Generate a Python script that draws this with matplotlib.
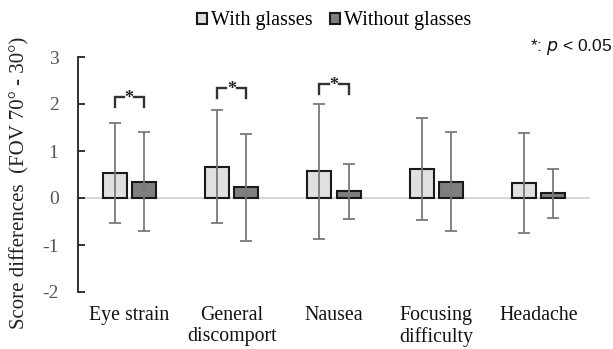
import matplotlib
matplotlib.use("Agg")
import matplotlib.pyplot as plt
import numpy as np

categories = ["Eye strain", "General\ndiscomport", "Nausea", "Focusing\ndifficulty", "Headache"]
with_mean = [0.53, 0.67, 0.57, 0.62, 0.32]
with_sd = [1.07, 1.21, 1.44, 1.08, 1.07]
without_mean = [0.35, 0.23, 0.14, 0.35, 0.10]
without_sd = [1.06, 1.14, 0.59, 1.05, 0.52]
sig_groups = [0, 1, 2]
sig_heights = [2.14, 2.33, 2.42]
yticks = [-2, -1, 0, 1, 2, 3]

serif = "Liberation Serif"
fig = plt.figure(figsize=(6.13, 3.49), dpi=100)
ax = fig.add_axes([78/613, 1-292/349, (590-78)/613, (292-57)/349])

x = np.arange(len(categories))
w = 0.235
off = 0.143
ax.bar(x - off, with_mean, w, color="#e0e0e0", edgecolor="#1a1a1a", linewidth=1.5,
       label="With glasses", zorder=2)
ax.bar(x + off, without_mean, w, color="#7f7f7f", edgecolor="#1a1a1a", linewidth=1.5,
       label="Without glasses", zorder=2)
ax.errorbar(x - off, with_mean, yerr=with_sd, fmt="none", ecolor="#7a7a7a",
            elinewidth=1.3, capsize=4, capthick=1.3, zorder=3)
ax.errorbar(x + off, without_mean, yerr=without_sd, fmt="none", ecolor="#7a7a7a",
            elinewidth=1.3, capsize=4, capthick=1.3, zorder=3)

ax.axhline(0, color="#d0d0d0", linewidth=1.2, zorder=1)

for g, h in zip(sig_groups, sig_heights):
    x0, x1 = g - off, g + off
    gapl, gapr = g - 0.05, g + 0.05
    ax.plot([x0, x0, gapl], [h - 0.2, h, h], color="#333333", lw=1.7, solid_joinstyle="miter", zorder=4)
    ax.plot([gapr, x1, x1], [h, h, h - 0.2], color="#333333", lw=1.7, solid_joinstyle="miter", zorder=4)
    ax.text(g, h - 0.03, "*", ha="center", va="center", fontsize=13, family=serif,
            fontweight="bold", color="#222222")

ax.set_xlim(-0.5, 4.5)
ax.set_ylim(-2, 3)
ax.set_yticks(yticks)
ax.set_yticklabels([str(t) for t in yticks], family=serif, fontsize=14, color="#555555")
ax.set_xticks(x)
ax.set_xticklabels(categories, family=serif, fontsize=14.3, color="#111111", linespacing=1.15)
ax.tick_params(axis="x", length=0, pad=10)
ax.tick_params(axis="y", direction="in", length=5, width=1.3, color="#222222", pad=14)
for s in ["top", "right", "bottom"]:
    ax.spines[s].set_visible(False)
ax.spines["left"].set_color("#222222")
ax.spines["left"].set_linewidth(1.3)

fig.text(20/613, 1-183/349, "Score differences  (FOV 70° - 30°)", rotation=90,
         ha="center", va="center", family=serif, fontsize=15, color="#222222")

fig.legend(loc="center", bbox_to_anchor=(334/613, 1-21/349), ncol=2, frameon=False,
           prop={"family": serif, "size": 14.5}, handlelength=0.5, handleheight=0.5,
           handletextpad=0.2, columnspacing=0.85, borderpad=0, borderaxespad=0)

fig.text(612/613, 1-47/349, "*: $\\it{p}$ < 0.05", ha="right", va="center",
         family="Liberation Sans", fontsize=12.5, color="#111111")

fig.savefig("out.png", dpi=100)
